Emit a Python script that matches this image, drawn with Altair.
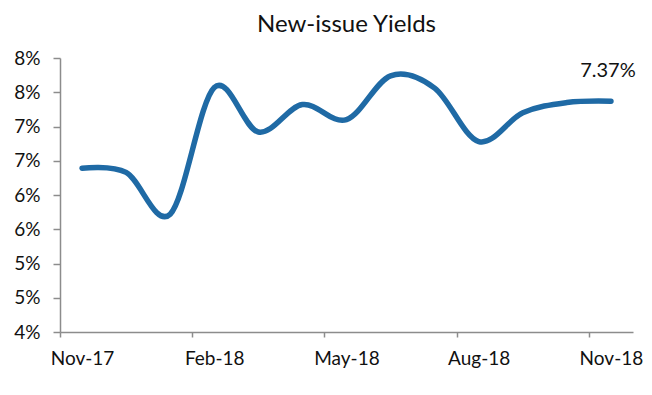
import altair as alt
import pandas as pd

months = ["Nov-17", "Dec-17", "Jan-18", "Feb-18", "Mar-18", "Apr-18", "May-18",
          "Jun-18", "Jul-18", "Aug-18", "Sep-18", "Oct-18", "Nov-18"]
yields = [6.39, 6.33, 5.72, 7.57, 6.92, 7.32, 7.10, 7.74, 7.56, 6.78, 7.20, 7.35, 7.37]
tick_labels = ["Nov-17", "Feb-18", "May-18", "Aug-18", "Nov-18"]
y_ticks = [4.0, 4.5, 5.0, 5.5, 6.0, 6.5, 7.0, 7.5, 8.0]
last_label = "7.37%"

df = pd.DataFrame({"i": list(range(len(months))), "month": months, "y": yields})
df["t"] = ""
df.loc[len(months) - 1, "t"] = last_label

FONT = "Lato"
GRAY = "#8c8c8c"

label_expr = ("['" + "','".join(tick_labels) + "'][round((datum.value + 0.5) / 3)]")

x = alt.X("i:Q",
          scale=alt.Scale(domain=[-0.5, len(months) - 0.5], nice=False, zero=False),
          axis=alt.Axis(values=[-0.5, 2.5, 5.5, 8.5, 11.5], labelExpr=label_expr,
                        labelOffset=22, title=None, grid=False, labelFlush=False,
                        labelOverlap=False, tickSize=5, labelPadding=12))
y = alt.Y("y:Q",
          scale=alt.Scale(domain=[4, 8], nice=False, zero=False),
          axis=alt.Axis(values=y_ticks, tickCount=9, labelExpr="round(datum.value) + '%'",
                        title=None, grid=False, tickSize=7, labelPadding=13,
                        labelOverlap=False, labelFlush=False))

base = alt.Chart(df).encode(x=x, y=y)

line = base.mark_line(interpolate="cardinal", color="#1F6AA5",
                      strokeWidth=5.5, strokeCap="round")

text = base.mark_text(font=FONT, fontSize=20, color="#111111",
                      baseline="bottom", align="center", dy=-20, dx=-3
                      ).encode(text="t:N").transform_filter("datum.t != ''")

chart = (line + text).properties(
    width=573, height=274,
    title=alt.Title("New-issue Yields", font=FONT, fontSize=24, fontWeight="normal",
                    color="#111111", anchor="middle", frame="group", offset=12),
    autosize=alt.AutoSizeParams(type="none"),
    padding={"left": 52, "top": 50, "right": 11, "bottom": 55},
).configure_view(stroke=None).configure_axis(
    domainColor=GRAY, domainWidth=1.5, tickColor=GRAY, tickWidth=1.5,
    labelFont=FONT, labelFontSize=19, labelColor="#111111",
)

chart.save("out.html", embed_options={"renderer": "svg", "actions": False})
